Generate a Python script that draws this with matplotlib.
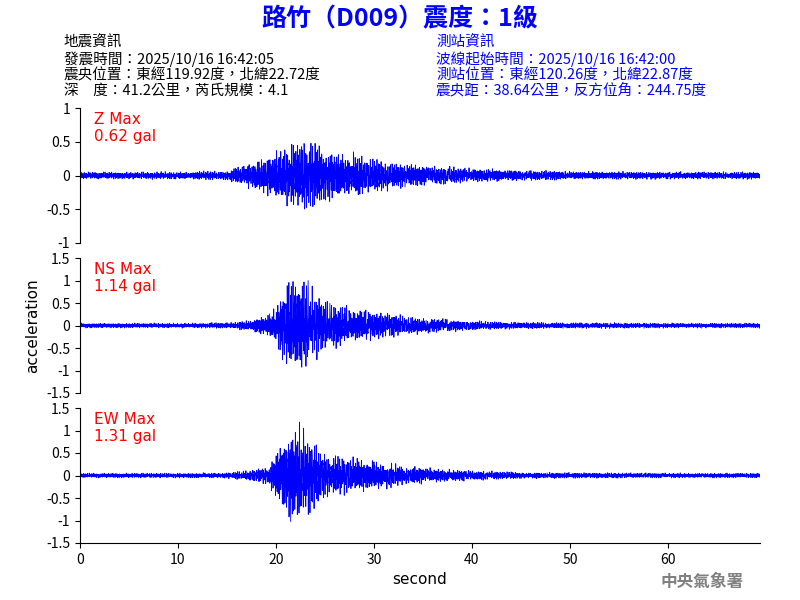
import numpy as np
import matplotlib
matplotlib.use("Agg")
import matplotlib.pyplot as plt

plt.rcParams['font.family'] = ['Noto Sans CJK TC', 'DejaVu Sans']

# Envelope (peak amplitude, gal) at these times (s)
env_t = [0, 10, 15, 17, 19, 20, 21, 22, 23, 24, 25, 27, 30, 33, 36, 40, 45, 50, 60, 69.4]
z_env = [0.06, 0.06, 0.08, 0.2, 0.32, 0.4, 0.5, 0.62, 0.62, 0.55, 0.45, 0.38, 0.3, 0.2, 0.15, 0.12, 0.09, 0.07, 0.06, 0.06]
ns_env = [0.06, 0.06, 0.07, 0.12, 0.25, 0.45, 1.0, 1.14, 1.14, 0.85, 0.6, 0.48, 0.36, 0.25, 0.18, 0.12, 0.08, 0.07, 0.06, 0.06]
ew_env = [0.06, 0.06, 0.07, 0.12, 0.25, 0.5, 1.2, 1.31, 1.1, 0.85, 0.6, 0.48, 0.36, 0.25, 0.18, 0.12, 0.08, 0.07, 0.06, 0.06]
labels = ['Z Max\n0.62 gal', 'NS Max\n1.14 gal', 'EW Max\n1.31 gal']
ylims = [1, 1.5, 1.5]
yticks = [[-1, -0.5, 0, 0.5, 1], [-1.5, -1, -0.5, 0, 0.5, 1, 1.5], [-1.5, -1, -0.5, 0, 0.5, 1, 1.5]]
left_lines = ['地震資訊', '發震時間：2025/10/16 16:42:05', '震央位置：東經119.92度，北緯22.72度', '深　度：41.2公里，芮氏規模：4.1']
right_lines = ['測站資訊', '波線起始時間：2025/10/16 16:42:00', '測站位置：東經120.26度，北緯22.87度', '震央距：38.64公里，反方位角：244.75度']

t = np.arange(0, 69.4, 0.01)
def carrier(k):
    c = (np.sin(2*np.pi*7.13*t + k) + 0.8*np.sin(2*np.pi*11.71*t + 2*k)
         + 0.6*np.sin(2*np.pi*17.39*t*(1+0.01*np.sin(t*3.1)) + 3*k) + 0.5*np.sin(2*np.pi*23.93*t + k*0.5))
    return c / 2.9

fig = plt.figure(figsize=(8, 6), dpi=100)
tops = [0.82, 0.57, 0.32]
envs = [z_env, ns_env, ew_env]
for i in range(3):
    ax = fig.add_axes([0.1, tops[i]-0.225, 0.85, 0.225])
    y = np.interp(t, env_t, envs[i]) * carrier(i+1)
    ax.plot(t, y, color='blue', lw=0.6)
    ax.set_xlim(0, 69.4)
    ax.set_ylim(-ylims[i], ylims[i])
    ax.set_yticks(yticks[i])
    ax.set_yticklabels([f'{v:g}' for v in yticks[i]])
    for s in ['top', 'right']:
        ax.spines[s].set_visible(False)
    if i < 2:
        ax.spines['bottom'].set_visible(False)
        ax.set_xticks([])
    else:
        ax.set_xticks(range(0, 70, 10))
        ax.set_xlabel('second', fontsize=11, family='DejaVu Sans')
    ax.tick_params(labelsize=10)
    ax.text(0.02, 0.97, labels[i], transform=ax.transAxes, color='red', fontsize=11, va='top', family='DejaVu Sans')
    if i == 1:
        ax.set_ylabel('acceleration', fontsize=11, family='DejaVu Sans')

fig.text(0.5, 0.968, '路竹（D009）震度：1級', color='blue', fontsize=18, weight='bold', ha='center', va='center')
for j in range(4):
    yy = 1 - (43 + 16*j)/600
    fig.text(0.08, yy, left_lines[j], fontsize=10.5, va='center')
    fig.text(0.545, yy, right_lines[j], fontsize=10.5, va='center', color='blue')
fig.text(0.93, 0.03, '中央氣象署', color='gray', fontsize=12, ha='right', va='center', weight='bold')
fig.savefig('out.png')
